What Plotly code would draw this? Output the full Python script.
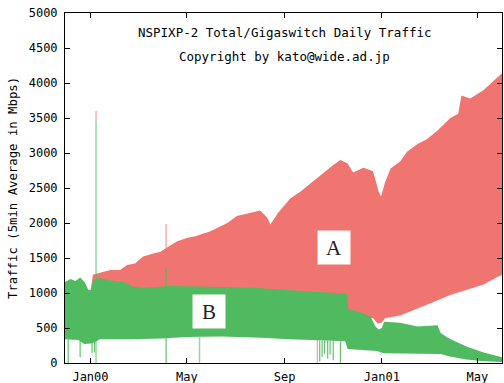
import pandas as pd
import plotly.graph_objects as go

BASE = pd.Timestamp("2000-01-01")

# ---- data (day offsets from 2000-01-01, values in Mbps) ----
a_top_days = [0, 3, 12, 25, 37, 46, 56, 66, 78, 88, 100, 109, 122, 132, 142, 150, 163, 172,
              184, 194, 205, 213, 222, 226, 236, 251, 264, 276, 285, 295, 305, 314, 323, 330,
              343, 355, 362, 365, 370, 377, 389, 398, 411, 423, 436, 452, 462, 466, 477, 494,
              506, 518]
a_top_vals = [1010, 1260, 1290, 1330, 1330, 1400, 1420, 1520, 1560, 1590, 1680, 1740, 1790,
              1810, 1850, 1880, 1950, 2000, 2100, 2130, 2160, 2180, 2080, 1980, 2150, 2350,
              2450, 2560, 2640, 2740, 2830, 2900, 2850, 2720, 2790, 2740, 2450, 2380, 2580,
              2780, 2880, 3020, 3130, 3200, 3320, 3500, 3560, 3820, 3780, 3900, 4020, 4150]
a_low_days = [0, 4, 200, 323, 355, 361, 366, 370, 389, 411, 431, 452, 474, 494, 511, 518]
a_low_vals = [1000, 650, 650, 650, 640, 560, 580, 640, 680, 780, 870, 970, 1050, 1120, 1230, 1260]

b_top_days = [-33, -25, -19, -13, -7, -3, 0, 4, 12, 25, 44, 54, 63, 100, 150, 200, 250, 290,
              322.5, 323.8, 340, 352, 358, 362, 366, 369, 389, 411, 430, 436, 440, 449, 462,
              474, 494, 512, 518]
b_top_vals = [1150, 1200, 1170, 1220, 1150, 1050, 1040, 1200, 1210, 1180, 1150, 1090, 1070,
              1100, 1090, 1080, 1040, 1010, 990, 770, 720, 660, 520, 480, 500, 590, 575, 520,
              540, 540, 430, 360, 290, 230, 150, 90, 80]
b_low_days = [-33, -15, -8, 0, 6, 12, 50, 90, 120, 165, 215, 250, 285, 320, 323, 360, 368,
              440, 450, 470, 490, 518]
b_low_vals = [340, 330, 270, 280, 300, 340, 340, 350, 370, 380, 360, 340, 320, 310, 200, 170,
              140, 130, 95, 55, 30, 15]

# spikes / outages: (day, min, max)
b_spike_days = [-28, 95, 288, 291, 294, 298, 301, 305, 314, -13, 2, 5]
b_spike_min = [0, 0, 20, 90, 130, 60, 120, 40, 0, 86, 140, 150]
b_spike_max = [340, 1360, 320, 320, 320, 320, 320, 315, 310, 330, 290, 300]
b_light_days = [7, 137]
b_light_min = [0, 0]
b_light_max = [3460, 370]
a_spike_days = [7, 95, 285]
a_spike_min = [3460, 1600, 0]
a_spike_max = [3600, 1986, 330]

x_tick_dates = ["2000-01-01", "2000-05-01", "2000-09-01", "2001-01-01", "2001-05-01"]
x_tick_text = ["Jan00", "May", "Sep", "Jan01", "May"]
y_ticks = list(range(0, 5001, 500))

RED = "#F0746F"
GREEN = "#50BA60"


def to_dates(days):
    return list(BASE + pd.to_timedelta(days, unit="D"))


def band(top_d, top_v, low_d, low_v, color):
    x = to_dates(top_d) + to_dates(low_d)[::-1]
    y = list(top_v) + list(low_v)[::-1]
    return go.Scatter(x=x, y=y, fill="toself", fillcolor=color, mode="lines",
                      line=dict(width=0, color=color), hoverinfo="skip", showlegend=False)


def spikes(days, lo, hi, color, width=1):
    xs, ys = [], []
    for d, a, b in zip(to_dates(days), lo, hi):
        xs += [d, d, None]
        ys += [a, b, None]
    return go.Scatter(x=xs, y=ys, mode="lines", line=dict(color=color, width=width),
                      hoverinfo="skip", showlegend=False)


fig = go.Figure()
fig.add_trace(band(a_top_days, a_top_vals, a_low_days, a_low_vals, RED))
fig.add_trace(spikes(a_spike_days, a_spike_min, a_spike_max, "rgba(240,116,111,0.7)", 1.2))
fig.add_trace(band(b_top_days, b_top_vals, b_low_days, b_low_vals, GREEN))
fig.add_trace(spikes(b_spike_days, b_spike_min, b_spike_max, "rgba(80,186,96,0.9)", 1.2))
fig.add_trace(spikes(b_light_days, b_light_min, b_light_max, "rgba(80,186,96,0.6)", 1.5))

MONO = "DejaVu Sans Mono"
axis_common = dict(showline=True, linecolor="black", linewidth=1, mirror="allticks",
                   ticks="inside", ticklen=5, tickwidth=1, tickcolor="black",
                   showgrid=False, zeroline=False, automargin=False,
                   tickfont=dict(family=MONO, size=12, color="black"))

ann_common = dict(xref="paper", yref="paper", showarrow=False,
                  xanchor="center", yanchor="middle")

fig.update_layout(
    width=504, height=383,
    margin=dict(l=65, r=2, t=13, b=20),
    paper_bgcolor="white", plot_bgcolor="white",
    xaxis=dict(range=["1999-11-30", "2001-06-01"], tickvals=x_tick_dates,
               ticktext=x_tick_text, ticklabelstandoff=3, **axis_common),
    yaxis=dict(range=[0, 5000], tickvals=y_ticks, ticklabelstandoff=4, **axis_common),
    annotations=[
        dict(text="NSPIXP-2 Total/Gigaswitch Daily Traffic", x=0.5023, y=0.9457,
             font=dict(family=MONO, size=12.5, color="black"), **ann_common),
        dict(text="Copyright by kato@wide.ad.jp", x=0.5023, y=0.877,
             font=dict(family=MONO, size=12.5, color="black"), **ann_common),
        dict(text="Traffic (5min Average in Mbps)", x=-0.119, y=0.50, textangle=-90,
             font=dict(family=MONO, size=12.3, color="black"), **ann_common),
        dict(text="A", x=0.6156, y=0.3286, bgcolor="white", width=30, height=31,
             font=dict(family="Liberation Serif", size=21, color="#222222"), **ann_common),
        dict(text="B", x=0.3295, y=0.147, bgcolor="white", width=30, height=31,
             font=dict(family="Liberation Serif", size=21, color="#222222"), **ann_common),
    ],
)

fig.write_html("out.html")
